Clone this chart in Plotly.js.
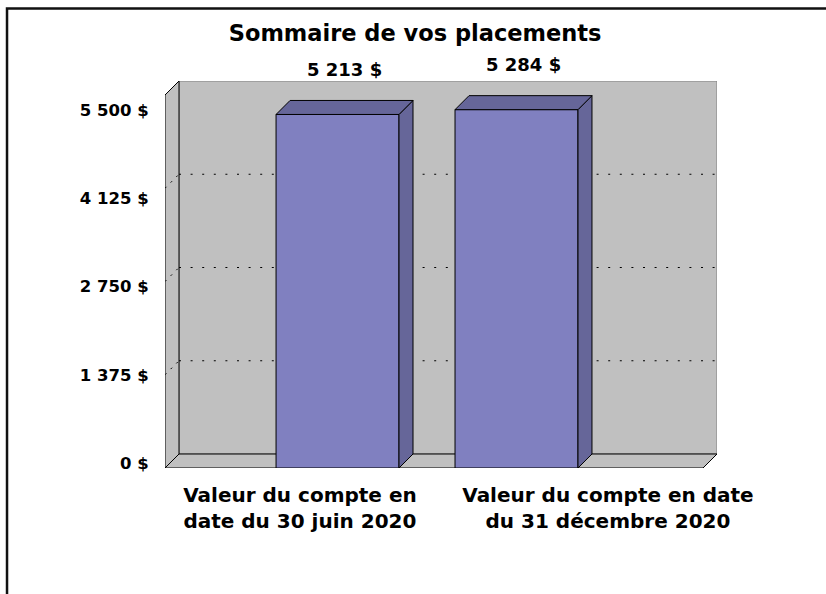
<!DOCTYPE html>
<html>
<head>
<meta charset="utf-8">
<script src="https://cdn.plot.ly/plotly-3.0.1.min.js"></script>
<style>html,body{margin:0;padding:0;background:#fff;overflow:hidden;}#chart{width:826px;height:594px;}</style>
</head>
<body>
<div id="chart"></div>
<script>
// ---- data ----
const categories = ['Valeur du compte en<br>date du 30 juin 2020', 'Valeur du compte en date<br>du 31 décembre 2020'];
const values = [5213, 5284];
const valueLabels = ['5 213 $', '5 284 $'];
const tickVals = [0, 1375, 2750, 4125, 5500];
const tickLabels = ['0 $', '1 375 $', '2 750 $', '4 125 $', '5 500 $'];
const gridVals = [1375, 2750, 4125];

// ---- style / geometry ----
const FONT = 'DejaVu Sans, Liberation Sans, Arial, sans-serif';
const FRONT = '#8080C0', DARK = '#666699', WALL = '#C0C0C0';
const barW = 0.687;
const dx = 0.0782;   // depth offset in x units
const dy = 206.4;    // depth offset in y units
const yMax = 5500;
const xL = -0.964, xR = 2.042;

const idx = categories.map((c, i) => i);

const traces = [];
// front faces
traces.push({
  type: 'bar', x: idx, y: values, width: barW,
  marker: {color: FRONT, line: {color: '#000', width: 1}},
  hoverinfo: 'skip', showlegend: false
});
// side & top faces
idx.forEach((i) => {
  const v = values[i], x0 = i - barW / 2, x1 = i + barW / 2;
  traces.push({
    type: 'scatter', mode: 'lines', fill: 'toself', fillcolor: DARK,
    x: [x1, x1, x1 + dx, x1 + dx, x1], y: [0, v, v + dy, dy, 0],
    line: {color: '#000', width: 1}, hoverinfo: 'skip', showlegend: false
  });
  traces.push({
    type: 'scatter', mode: 'lines', fill: 'toself', fillcolor: DARK,
    x: [x0, x1, x1 + dx, x0 + dx, x0], y: [v, v, v + dy, v + dy, v],
    line: {color: '#000', width: 1}, hoverinfo: 'skip', showlegend: false
  });
});
// carriers for the label axes (draw nothing)
traces.push({type: 'scatter', mode: 'none', x: idx, y: values, xaxis: 'x2', yaxis: 'y', hoverinfo: 'skip', showlegend: false});
traces.push({type: 'scatter', mode: 'none', x: idx, y: values, xaxis: 'x', yaxis: 'y2', hoverinfo: 'skip', showlegend: false});

const shapes = [];
// back wall
shapes.push({type: 'rect', xref: 'x', yref: 'y', layer: 'below',
  x0: xL + dx, x1: xR + dx, y0: dy, y1: yMax + dy,
  fillcolor: WALL, line: {color: '#808080', width: 1}});
// left wall
shapes.push({type: 'path', xref: 'x', yref: 'y', layer: 'below',
  path: `M${xL},0 L${xL},${yMax} L${xL + dx},${yMax + dy} L${xL + dx},${dy} Z`,
  fillcolor: WALL, line: {color: '#000', width: 1}});
// floor
shapes.push({type: 'path', xref: 'x', yref: 'y', layer: 'below',
  path: `M${xL},0 L${xR},0 L${xR + dx},${dy} L${xL + dx},${dy} Z`,
  fillcolor: WALL, line: {color: '#000', width: 1}});
// gridlines
gridVals.forEach((g) => {
  shapes.push({type: 'line', xref: 'x', yref: 'y', layer: 'below',
    x0: xL + dx, x1: xR + dx, y0: g + dy, y1: g + dy,
    line: {color: '#000', width: 1, dash: '2px,9.6px'}});
  shapes.push({type: 'line', xref: 'x', yref: 'y', layer: 'below',
    x0: xL, x1: xL + dx, y0: g, y1: g + dy,
    line: {color: '#000', width: 1, dash: '2px,6px'}});
});
// outer frame (top and left)
shapes.push({type: 'path', xref: 'paper', yref: 'paper',
  path: 'M-0.2862,-0.35 L-0.2862,1.1873 L1.24,1.1873',
  line: {color: '#111', width: 2.5}});

const annotations = idx.map((i) => ({
  xref: 'x', yref: 'y', x: i + dx / 2, y: values[i] + dy,
  text: valueLabels[i], showarrow: false, yanchor: 'middle', yshift: 31,
  font: {family: FONT, size: 18, color: '#000', weight: 700}
}));

const layout = {
  width: 826, height: 594,
  margin: {l: 165, r: 109, t: 81, b: 126, pad: 0},
  paper_bgcolor: '#fff', plot_bgcolor: 'rgba(0,0,0,0)',
  showlegend: false,
  title: {text: 'Sommaire de vos placements', x: 0.5025, xref: 'container', y: 0.944, yref: 'container',
    xanchor: 'center', yanchor: 'middle',
    font: {family: FONT, size: 22.5, color: '#000', weight: 700}},
  xaxis: {range: [xL, xR + dx], visible: false, fixedrange: true},
  yaxis: {range: [0, yMax + dy], visible: false, fixedrange: true},
  xaxis2: {overlaying: 'x', anchor: 'y', side: 'bottom', range: [-0.438, 1.354],
    tickmode: 'array', tickvals: idx, ticktext: categories,
    ticks: 'outside', ticklen: 9, tickcolor: 'rgba(0,0,0,0)',
    showgrid: false, zeroline: false, showline: false, fixedrange: true,
    tickfont: {family: FONT, size: 20, color: '#000', weight: 700}},
  yaxis2: {overlaying: 'y', anchor: 'x', side: 'left', range: [-77.9, 5951.8],
    tickmode: 'array', tickvals: tickVals, ticktext: tickLabels,
    ticks: 'outside', ticklen: 12, tickcolor: 'rgba(0,0,0,0)',
    showgrid: false, zeroline: false, showline: false, fixedrange: true,
    tickfont: {family: FONT, size: 16.5, color: '#000', weight: 700}},
  shapes: shapes,
  annotations: annotations
};

Plotly.newPlot('chart', traces, layout, {staticPlot: true, displayModeBar: false});
</script>
</body>
</html>
